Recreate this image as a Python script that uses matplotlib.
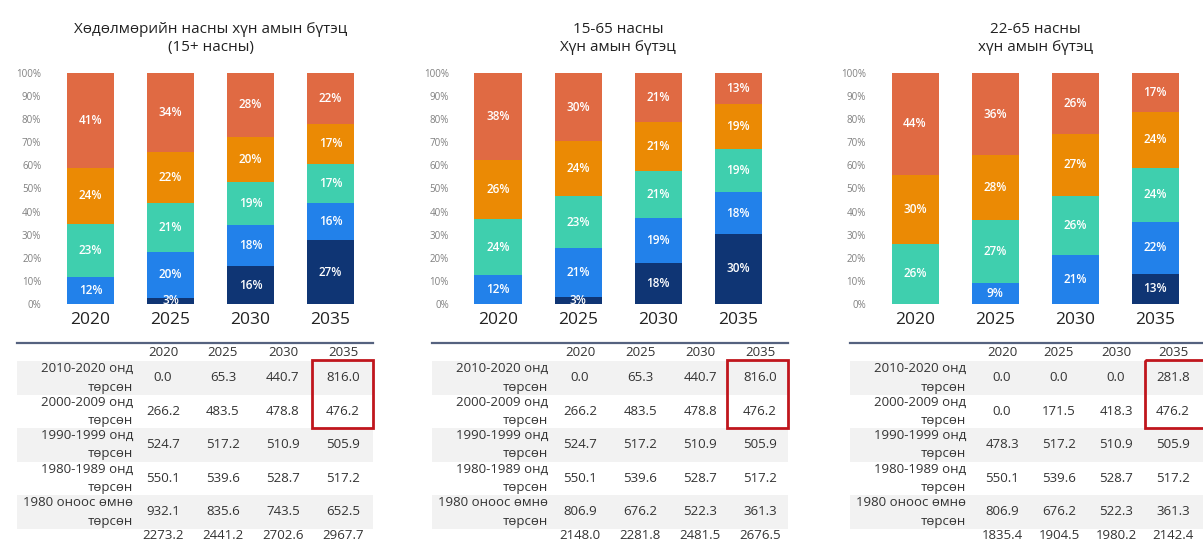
import numpy as np
import matplotlib.pyplot as plt
from matplotlib.patches import Rectangle

plt.rcParams['font.family'] = ['Open Sans', 'DejaVu Sans']

years = ['2020', '2025', '2030', '2035']
cohorts = ['2010-2020 онд\nтөрсөн', '2000-2009 онд\nтөрсөн', '1990-1999 онд\nтөрсөн',
           '1980-1989 онд\nтөрсөн', '1980 оноос өмнө\nтөрсөн']
colors = ['#0f3574', '#2281ea', '#3fcfae', '#eb8a04', '#e06a43']

titles = ['Хөдөлмөрийн насны хүн амын бүтэц\n(15+ насны)',
          '15-65 насны\nХүн амын бүтэц',
          '22-65 насны\nхүн амын бүтэц']

# population (thousand) by birth cohort, rows = cohorts, cols = years
pop_15plus = [[0.0, 65.3, 440.7, 816.0],
              [266.2, 483.5, 478.8, 476.2],
              [524.7, 517.2, 510.9, 505.9],
              [550.1, 539.6, 528.7, 517.2],
              [932.1, 835.6, 743.5, 652.5]]
total_15plus = [2273.2, 2441.2, 2702.6, 2967.7]

pop_15_65 = [[0.0, 65.3, 440.7, 816.0],
             [266.2, 483.5, 478.8, 476.2],
             [524.7, 517.2, 510.9, 505.9],
             [550.1, 539.6, 528.7, 517.2],
             [806.9, 676.2, 522.3, 361.3]]
total_15_65 = [2148.0, 2281.8, 2481.5, 2676.5]

pop_22_65 = [[0.0, 0.0, 0.0, 281.8],
             [0.0, 171.5, 418.3, 476.2],
             [478.3, 517.2, 510.9, 505.9],
             [550.1, 539.6, 528.7, 517.2],
             [806.9, 676.2, 522.3, 361.3]]
total_22_65 = [1835.4, 1904.5, 1980.2, 2142.4]

panels = [(pop_15plus, total_15plus), (pop_15_65, total_15_65), (pop_22_65, total_22_65)]

W, H = 1203, 541
fig = plt.figure(figsize=(W / 100, H / 100), dpi=100)

bar_c0 = [90.5, 498, 915]      # first bar centre (px)
tab_x0 = [17, 432, 850]        # table left edge (px)
col_pos = [(146, 60), (148, 60), (152, 57)]
txt = '#333333'

for p, (pop, tot) in enumerate(panels):
    vals = np.array(pop)
    shares = vals / vals.sum(axis=0) * 100

    # ---- stacked bars
    left = bar_c0[p] - 45
    ax = fig.add_axes([left / W, (H - 304) / H, 315 / W, 231 / H])
    x = np.arange(len(years))
    bottom = np.zeros(len(years))
    for i in range(len(cohorts)):
        ax.bar(x, shares[i], 47 / 80, bottom=bottom, color=colors[i], linewidth=0)
        for j in range(len(years)):
            if vals[i, j] > 0:
                ax.text(x[j], bottom[j] + shares[i, j] / 2, f'{int(round(shares[i, j]))}%',
                        ha='center', va='center', color='white', fontsize=8.5,
                        fontweight='semibold', clip_on=True)
        bottom += shares[i]
    ax.set_xlim(-45 / 80, 270 / 80)
    ax.set_ylim(0, 100)
    ax.set_yticks(np.arange(0, 101, 10))
    ax.set_yticklabels([f'{v}%' for v in range(0, 101, 10)])
    ax.tick_params(axis='y', length=0, pad=3, labelsize=7, labelcolor='#808080')
    ax.set_xticks(x)
    ax.set_xticklabels(years)
    ax.tick_params(axis='x', length=0, pad=6, labelsize=12.5, labelcolor='#222222')
    for s in ax.spines.values():
        s.set_visible(False)
    ax.text(165 / 315, 1.15, titles[p], transform=ax.transAxes, ha='center', va='center',
            fontsize=11, color='#222222', linespacing=1.3)

    # ---- table
    tx = fig.add_axes([tab_x0[p] / W, 0, 356 / W, (H - 343) / H])
    tx.set_xlim(0, 356)
    tx.set_ylim(198, 0)
    tx.axis('off')
    tx.plot([0, 356], [0, 0], color='#55627f', lw=1.6, clip_on=False)
    c0, cs = col_pos[p]
    for j, yr in enumerate(years):
        tx.text(c0 + j * cs, 9.5, yr, ha='center', va='center', fontsize=9.5, color=txt)
    rh = 33.5
    for i, lab in enumerate(cohorts):
        y0 = 18 + i * rh
        if i % 2 == 0:
            tx.add_patch(Rectangle((0, y0), 356, rh, color='#f2f2f2', lw=0, zorder=0))
        yc = y0 + rh / 2
        tx.text(116, yc, lab, ha='right', va='center', multialignment='right',
                fontsize=9.5, color=txt, linespacing=1.55)
        for j in range(len(years)):
            tx.text(c0 + j * cs, yc, f'{pop[i][j]:.1f}', ha='center', va='center',
                    fontsize=9.5, color=txt)
    for j in range(len(years)):
        tx.text(c0 + j * cs, 192.5, f'{tot[j]:.1f}', ha='center', va='center',
                fontsize=9.5, color=txt, clip_on=False)
    tx.add_patch(Rectangle((295, 17), 61, 68, fill=False, edgecolor='#c0161d', lw=2.0,
                           zorder=5, clip_on=False))

fig.savefig('out.png', dpi=100, facecolor='white')
